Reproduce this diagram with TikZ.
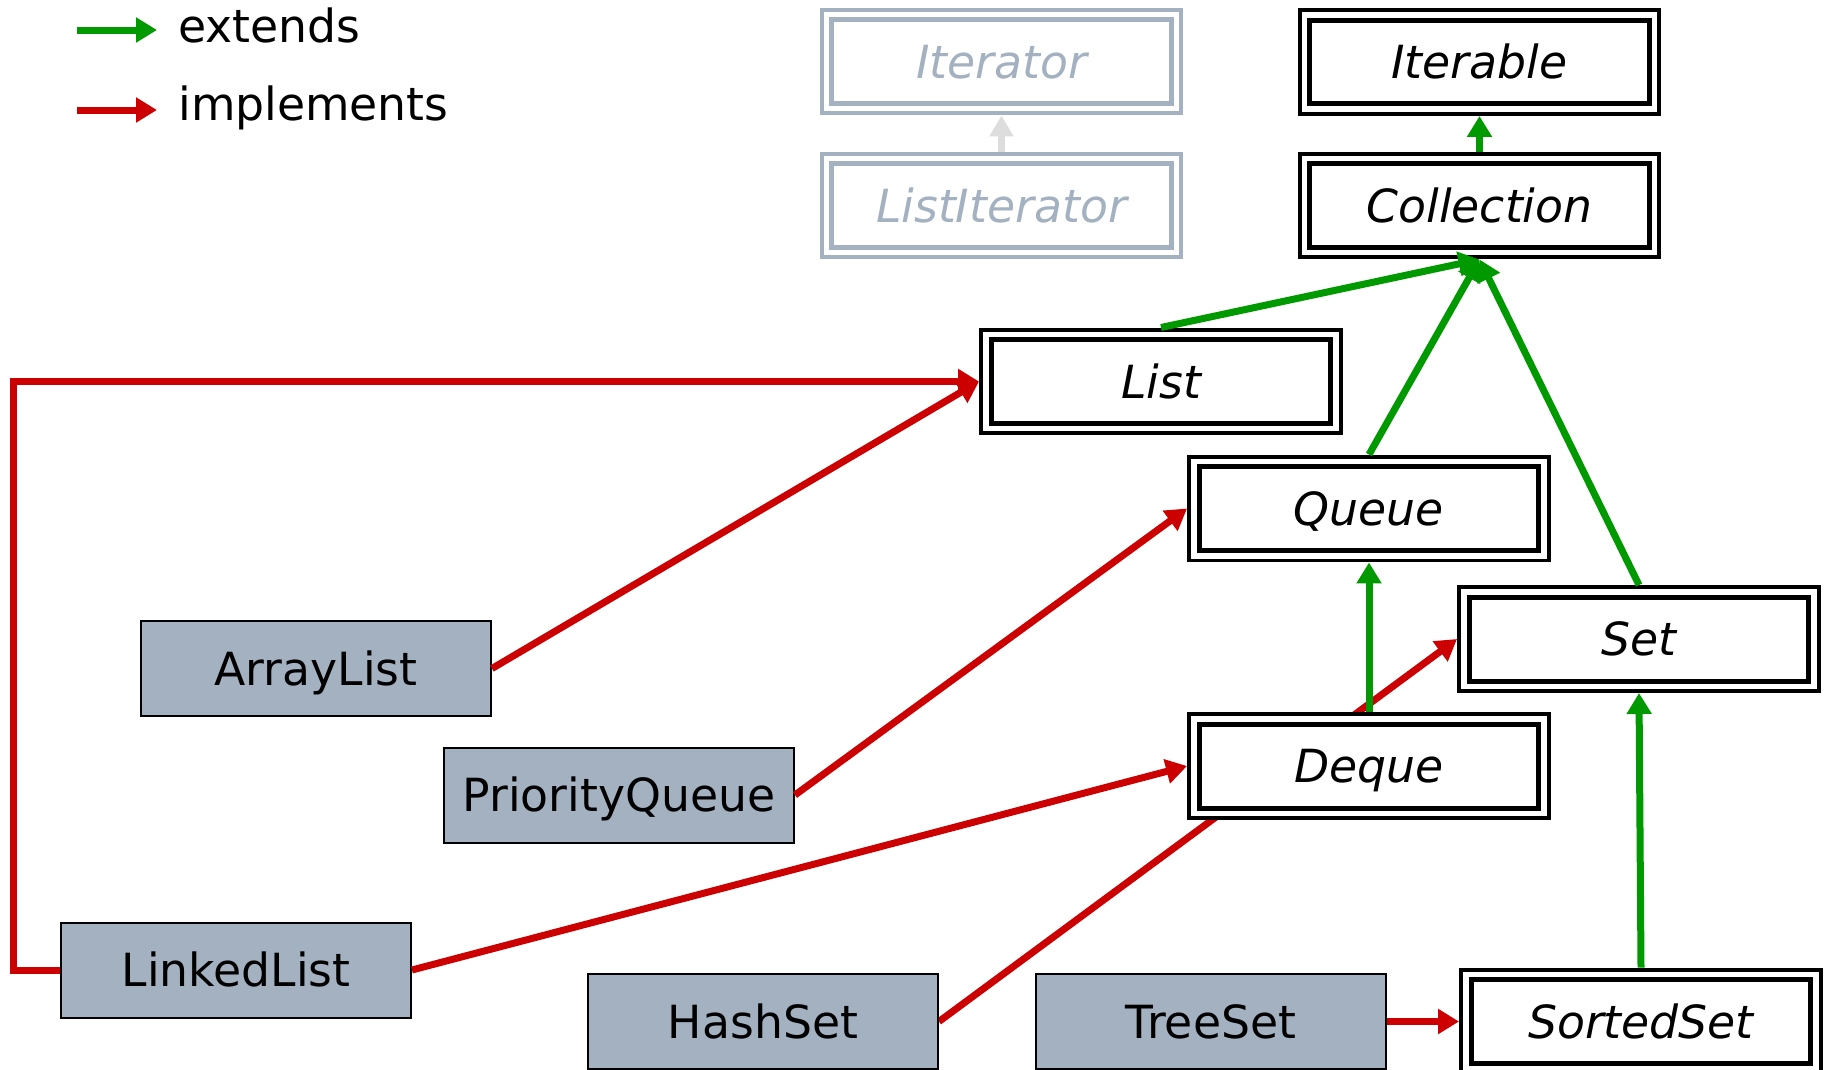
\documentclass[tikz,border=0pt]{standalone}
\usepackage{fontspec}
\setmainfont{DejaVu Sans}
\usepackage{tikz}
\usetikzlibrary{arrows.meta,backgrounds}

\definecolor{extgreen}{RGB}{0,153,0}
\definecolor{implred}{RGB}{204,0,0}
\definecolor{classgray}{RGB}{163,177,193}
\definecolor{fadegray}{RGB}{221,221,221}
\newcommand{\diafont}{\fontsize{26}{31}\selectfont}

\tikzset{
  iface/.style={draw=#1, text=#1, line width=0.08cm, fill=white,
    minimum width=7.2cm, minimum height=2.08cm, inner sep=0pt,
    text height=19pt, text depth=0pt,
    font=\diafont\itshape,
    path picture={\draw[#1, line width=0.1cm]
      ([shift={(0.2cm,-0.2cm)}]path picture bounding box.north west) rectangle
      ([shift={(-0.2cm,0.2cm)}]path picture bounding box.south east);}},
  iface/.default=black,
  cls/.style={draw, line width=0.04cm, fill=classgray,
    minimum width=7cm, minimum height=1.9cm, inner sep=0pt,
    text height=19pt, text depth=0pt, font=\diafont},
  ext/.style={extgreen, line width=0.14cm,
    -{Triangle[width=0.48cm,length=0.42cm]}},
  impl/.style={implred, line width=0.14cm,
    -{Triangle[width=0.48cm,length=0.42cm]}},
  fade/.style={fadegray, line width=0.13cm,
    -{Triangle[width=0.46cm,length=0.42cm]}}
}

\begin{document}
\begin{tikzpicture}[x=0.02cm, y=-0.02cm]
    \useasboundingbox (0,0) rectangle (1829,1069);

    \coordinate (extA) at (77,30);
    \coordinate (implA) at (77,110);
    \draw[ext] (extA) -- ++(80,0);
    \draw[impl] (implA) -- ++(80,0);
    \node[anchor=base west, inner sep=0pt, font=\diafont] (extlbl) at (178,42) {extends};
    \node[anchor=base west, inner sep=0pt, font=\diafont] (impllbl) at (178,120) {implements};

    \node[iface=classgray] (Iterator) at (1001.5,61.5) {Iterator};
    \node[iface=classgray] (ListIterator) at (1001.5,205.5) {ListIterator};
    \node[iface] (Iterable) at (1479.5,62) {Iterable};
    \node[iface] (Collection) at (1479.5,205.5) {Collection};
    \node[iface] (List) at (1161,381.5) {List};
    \node[iface] (Queue) at (1369,508.5) {Queue};
    \node[iface] (Set) at (1639,639) {Set};
    \node[iface] (Deque) at (1369,766) {Deque};
    \node[iface] (SortedSet) at (1641,1021.5) {SortedSet};

    \node[cls] (ArrayList) at (316,668.5) {ArrayList};
    \node[cls] (PriorityQueue) at (619,795) {PriorityQueue};
    \node[cls] (LinkedList) at (236,970) {LinkedList};
    \node[cls] (HashSet) at (763,1021.5) {HashSet};
    \node[cls] (TreeSet) at (1211,1021.5) {TreeSet};

    \draw[fade] (ListIterator.north) -- (Iterator.south);
    \draw[ext] (Collection.north) -- (Iterable.south);
    \draw[ext] (List.north) -- (Collection.south);
    \draw[ext] (Queue.north) -- (Collection.south);
    \draw[ext] (Set.north) -- (Collection.south);
    \draw[ext] (SortedSet.north) -- (Set.south);

    \draw[impl] (ArrayList.east) -- (List.west);
    \draw[impl] (LinkedList.west) -- ++(-47,0) |- (List.west);
    \draw[impl] (LinkedList.east) -- (Deque.west);
    \draw[impl] (PriorityQueue.east) -- (Queue.west);
    \draw[impl] (TreeSet.east) -- (SortedSet.west);
    \begin{scope}[on background layer]
      \draw[impl] (HashSet.east) -- (Set.west);
    \end{scope}
    \draw[ext] (Deque.north) -- (Queue.south);
\end{tikzpicture}
\end{document}
